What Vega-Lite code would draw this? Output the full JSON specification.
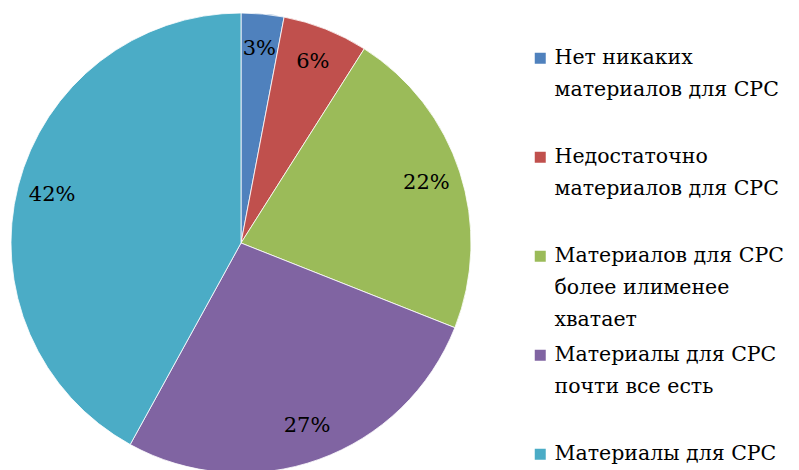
{
  "$schema": "https://vega.github.io/schema/vega-lite/v6.json",
  "width": 482,
  "height": 486,
  "autosize": {"type": "none"},
  "padding": {"left": 0, "top": 0, "right": 317, "bottom": 0},
  "background": "white",
  "config": {
    "font": "DejaVu Serif",
    "style": {"guide-label": {"lineHeight": 32, "font": "DejaVu Serif"}}
  },
  "data": {
    "values": [
      {"category": "Нет никаких|материалов для СРС| ", "value": 3, "label": "3%", "ord": 1},
      {"category": "Недостаточно|материалов для СРС| ", "value": 6, "label": "6%", "ord": 2},
      {"category": "Материалов для СРС|более илименее|хватает", "value": 22, "label": "22%", "ord": 3},
      {"category": "Материалы для СРС|почти все есть| ", "value": 27, "label": "27%", "ord": 4},
      {"category": "Материалы для СРС|есть в полном объеме| ", "value": 42, "label": "42%", "ord": 5}
    ]
  },
  "encoding": {
    "theta": {"field": "value", "type": "quantitative", "stack": true},
    "order": {"field": "ord", "type": "quantitative"}
  },
  "layer": [
    {
      "mark": {"type": "arc", "outerRadius": 230, "stroke": "white", "strokeWidth": 0.8},
      "encoding": {
        "color": {
          "field": "category",
          "type": "nominal",
          "sort": {"field": "ord"},
          "scale": {
            "domain": [
              "Нет никаких|материалов для СРС| ",
              "Недостаточно|материалов для СРС| ",
              "Материалов для СРС|более илименее|хватает",
              "Материалы для СРС|почти все есть| ",
              "Материалы для СРС|есть в полном объеме| "
            ],
            "range": ["#4F81BD", "#C0504D", "#9BBB59", "#8064A2", "#4BACC6"]
          },
          "legend": {
            "title": null,
            "orient": "none",
            "legendX": 530,
            "legendY": 48,
            "symbolType": "square",
            "symbolSize": 121,
            "symbolStrokeWidth": 0,
            "labelFont": "DejaVu Serif",
            "labelFontSize": 20.5,
            "labelColor": "black",
            "labelOffset": 4,
            "labelLimit": 400,
            "rowPadding": 14,
            "labelExpr": "split(datum.label, '|')",
            "encode": {
              "labels": {"update": {"lineHeight": {"value": 32}, "baseline": {"value": "top"}}},
              "symbols": {"update": {"yc": {"value": 15}}}
            }
          }
        }
      }
    },
    {
      "mark": {"type": "text", "radius": 195, "font": "DejaVu Serif", "fontSize": 21, "color": "black"},
      "encoding": {"text": {"field": "label", "type": "nominal"}}
    }
  ]
}
